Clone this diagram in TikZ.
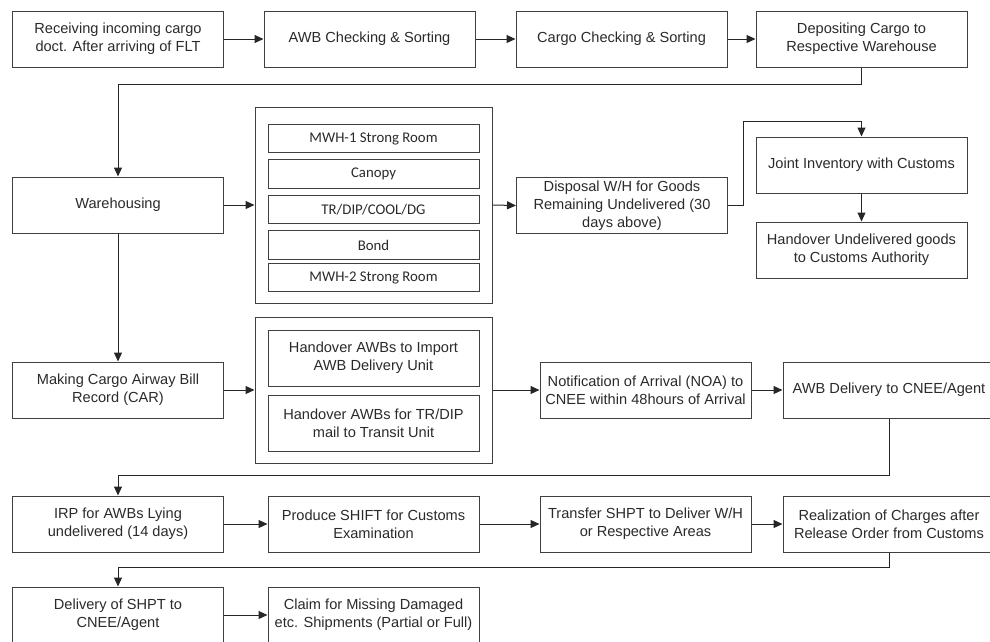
\documentclass[tikz,border=0pt]{standalone}
\usepackage{fontspec}
\setmainfont{Liberation Sans}
\newfontfamily\calibfont{Carlito}
\usetikzlibrary{arrows.meta,calc}
\definecolor{edgegray}{HTML}{404040}
\definecolor{inkgray}{HTML}{2A2A2A}
\begin{document}
\begin{tikzpicture}[x=1pt,y=-1pt,
  every node/.style={text=inkgray},
  stepbox/.style={draw=edgegray, line width=1pt, rectangle, align=center, inner sep=0pt,
    minimum width=211pt, minimum height=56pt, font=\fontsize{14.6}{18}\selectfont},
  groupbox/.style={draw=edgegray, line width=1pt, rectangle, inner sep=0pt, minimum width=237pt},
  roombox/.style={draw=edgegray, line width=1pt, rectangle, align=center, inner sep=0pt,
    minimum width=211pt, minimum height=28.5pt, font=\calibfont\fontsize{14.8}{17}\selectfont},
  flow/.style={draw=black!85, line width=1pt, -{Triangle[length=9pt,width=8pt]}},
  link/.style={draw=black!85, line width=1pt}
]
\useasboundingbox (0,0) rectangle (990,641);

% first row
\node[stepbox] (recv) at (118,39) {Receiving incoming cargo\\doct. After arriving of FLT};
\node[stepbox] (awbsort) at (369.5,39) {AWB Checking \& Sorting};
\node[stepbox] (cargosort) at (621.5,39) {Cargo Checking \& Sorting};
\node[stepbox] (deposit) at (861.5,39) {Depositing Cargo to\\Respective Warehouse};

% warehousing and storage areas
\node[stepbox] (wh) at (118,205) {Warehousing};
\node[groupbox, minimum height=196pt] (areas) at (373.5,205) {};
\node[roombox] (mwh1) at (373.5,138.5) {MWH-1 Strong Room};
\node[roombox] (canopy) at (373.5,174) {Canopy};
\node[roombox] (trdip) at (373.5,209.5) {TR/DIP/COOL/DG};
\node[roombox] (bond) at (373.5,245) {Bond};
\node[roombox] (mwh2) at (373.5,277.5) {MWH-2 Strong Room};
\node[stepbox] (disposal) at (622,205.5) {Disposal W/H for Goods\\Remaining Undelivered (30\\days above)};
\node[stepbox] (joint) at (861.5,165) {Joint Inventory with Customs};
\node[stepbox] (handcust) at (861.5,250) {Handover Undelivered goods\\to Customs Authority};

% airway bill record row
\node[stepbox] (car) at (118,390) {Making Cargo Airway Bill\\Record (CAR)};
\node[groupbox, minimum height=146pt] (handover) at (373.5,390) {};
\node[stepbox] (hoimport) at (373.5,358) {Handover AWBs to Import\\AWB Delivery Unit};
\node[stepbox] (hotransit) at (373.5,423) {Handover AWBs for TR/DIP\\mail to Transit Unit};
\node[stepbox] (noa) at (645.5,390) {Notification of Arrival (NOA) to\\CNEE within 48hours of Arrival};
\node[stepbox, minimum width=212pt] (awbdel) at (889,390) {AWB Delivery to CNEE/Agent};

% undelivered handling row
\node[stepbox] (irp) at (118,524) {IRP for AWBs Lying\\undelivered (14 days)};
\node[stepbox] (shift) at (373.5,524) {Produce SHIFT for Customs\\Examination};
\node[stepbox] (transfer) at (645.5,524) {Transfer SHPT to Deliver W/H\\or Respective Areas};
\node[stepbox, minimum width=212pt] (charges) at (889,524) {Realization of Charges after\\Release Order from Customs};

% final row
\node[stepbox] (delivery) at (118,615) {Delivery of SHPT to\\CNEE/Agent};
\node[stepbox] (claim) at (373.5,615) {Claim for Missing Damaged\\etc. Shipments (Partial or Full)};

% connectors
\draw[flow] (recv.east) -- (awbsort.west);
\draw[flow] (awbsort.east) -- (cargosort.west);
\draw[flow] (cargosort.east) -- (deposit.west);
\draw[flow] (deposit.south) -- ++(0,17) -| (wh.north);
\draw[flow] (wh.east) -- (areas.west);
\draw[flow] (areas.east) -- (disposal.west);
\draw[flow] (disposal.east) -- ++(15,0) |- ($(joint.north)+(0,-15)$) -- (joint.north);
\draw[flow] (joint.south) -- (handcust.north);
\draw[flow] (wh.south) -- (car.north);
\draw[flow] (car.east) -- (handover.west);
\draw[flow] (handover.east) -- (noa.west);
\draw[flow] (noa.east) -- (awbdel.west);
\draw[flow] (awbdel.south) -- ++(0,57) -| (irp.north);
\draw[flow] (irp.east) -- (shift.west);
\draw[flow] (shift.east) -- (transfer.west);
\draw[flow] (transfer.east) -- (charges.west);
\draw[flow] (charges.south) -- ++(0,15) -| (delivery.north);
\draw[flow] (delivery.east) -- (claim.west);
\end{tikzpicture}
\end{document}
